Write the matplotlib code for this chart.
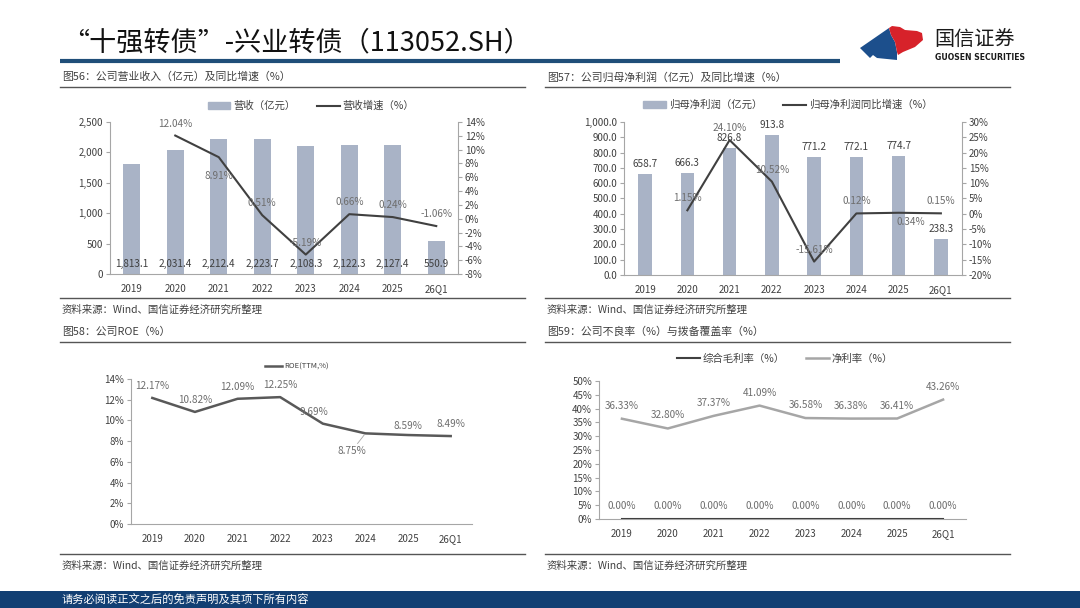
import numpy as np
import matplotlib
matplotlib.use("Agg")
import matplotlib.pyplot as plt
from matplotlib.patches import Polygon, Rectangle, Patch
from matplotlib.lines import Line2D
from matplotlib.ticker import FuncFormatter, MultipleLocator

plt.rcParams['font.family'] = ['Noto Sans CJK SC', 'DejaVu Sans']
plt.rcParams['axes.unicode_minus'] = False

W, H = 1080, 608

# --- data ---
years = ["2019", "2020", "2021", "2022", "2023", "2024", "2025", "26Q1"]
revenue = [1813.1, 2031.4, 2212.4, 2223.7, 2108.3, 2122.3, 2127.4, 550.9]
revenue_yoy = [np.nan, 12.04, 8.91, 0.51, -5.19, 0.66, 0.24, -1.06]
profit = [658.7, 666.3, 826.8, 913.8, 771.2, 772.1, 774.7, 238.3]
profit_yoy = [np.nan, 1.15, 24.10, 10.52, -15.61, 0.12, 0.34, 0.15]
roe = [12.17, 10.82, 12.09, 12.25, 9.69, 8.75, 8.59, 8.49]
gross_margin = [0.00, 0.00, 0.00, 0.00, 0.00, 0.00, 0.00, 0.00]
net_margin = [36.33, 32.80, 37.37, 41.09, 36.58, 36.38, 36.41, 43.26]

BAR = '#A9B3C6'
DARK = '#404040'
TXT = '#404040'
LBL = '#6E6E6E'
AXC = '#A6A6A6'
NAVY = '#123F73'

fig = plt.figure(figsize=(W / 100, H / 100), dpi=100)


def px_axes(x0, y0, x1, y1):
    return fig.add_axes([x0 / W, 1 - y1 / H, (x1 - x0) / W, (y1 - y0) / H])


def style(ax, right=False):
    for s in ['top', 'right', 'left', 'bottom']:
        ax.spines[s].set_visible(False)
    ax.spines['bottom'].set_visible(True)
    ax.spines['bottom'].set_color(AXC)
    side = 'right' if right else 'left'
    ax.spines[side].set_visible(True)
    ax.spines[side].set_color(AXC)
    ax.tick_params(axis='y', length=3, color=AXC, labelsize=7, labelcolor=TXT, pad=2)
    ax.tick_params(axis='x', length=0, labelsize=7, labelcolor=TXT, pad=7)


def pct(v, _):
    return f"{v:.0f}%"


# background layer (pixel coords)
bg = fig.add_axes([0, 0, 1, 1])
bg.set_xlim(0, W)
bg.set_ylim(H, 0)
bg.axis('off')

bg.text(62, 43, "“十强转债”-兴业转债（113052.SH）", fontsize=19.5, color='#111111',
        va='center', ha='left')
bg.plot([60, 840], [61, 61], color='#1F4E79', lw=3, solid_capstyle='butt')

# logo
bg.add_patch(Polygon([(860, 48), (889, 28), (891, 35), (895, 42), (897, 52), (897, 60),
                      (877, 58), (873, 55), (870, 58)], closed=True, color='#1C4F8C', lw=0))
bg.add_patch(Polygon([(889, 28), (892, 26), (900, 27), (905, 30), (917, 31), (922, 33),
                      (923, 40), (915, 47), (903, 52), (898, 55), (897, 52), (895, 42),
                      (891, 35)], closed=True, color='#D7222A', lw=0))
bg.text(934, 40, "国信证券", fontsize=14.5, color='#1a1a1a', va='center', ha='left')
bg.text(935, 58, "GUOSEN SECURITIES", fontsize=5.6, color='#1a1a1a', va='center',
        ha='left', fontweight='bold', family=['DejaVu Sans'])

# section headers and source lines
for x0, x1, ty, ly, sy, title in [
        (60, 525, 77, 87, 298, "图56：公司营业收入（亿元）及同比增速（%）"),
        (545, 1010, 77, 87, 298, "图57：公司归母净利润（亿元）及同比增速（%）"),
        (60, 525, 332, 342, 554, "图58：公司ROE（%）"),
        (545, 1010, 332, 342, 554, "图59：公司不良率（%）与拨备覆盖率（%）")]:
    bg.text(x0 + 2, ty, title, fontsize=7.8, color=TXT, va='center', ha='left')
    bg.plot([x0, x1], [ly, ly], color='#555555', lw=1)
    bg.plot([x0, x1], [sy, sy], color='#555555', lw=1)
    bg.text(x0 + 2, sy + 12, "资料来源：Wind、国信证券经济研究所整理", fontsize=7.5,
            color=TXT, va='center', ha='left')

bg.add_patch(Rectangle((0, 591), W, 17, color=NAVY, lw=0))
bg.text(62, 600, "请务必阅读正文之后的免责声明及其项下所有内容", fontsize=8.1,
        color='white', va='center', ha='left')

x = np.arange(len(years))


def add_legend(ax, handles, labels, cx, cy, fs=7.5):
    ax.legend(handles, labels, loc='center', bbox_to_anchor=(cx / W, 1 - cy / H),
              bbox_transform=fig.transFigure, ncol=len(handles), frameon=False,
              fontsize=fs, handlelength=2.2, handletextpad=0.3, columnspacing=2.0,
              labelcolor=TXT)


# ---- chart 56 ----
ax = px_axes(110, 122, 458, 274)
ax.bar(x, revenue, width=0.38, color=BAR, zorder=1)
ax.set_ylim(0, 2500)
ax.set_xlim(-0.5, len(years) - 0.5)
ax.yaxis.set_major_locator(MultipleLocator(500))
ax.yaxis.set_major_formatter(FuncFormatter(lambda v, _: f"{v:,.0f}"))
ax.set_xticks(x, years)
style(ax)
for i, v in enumerate(revenue):
    ax.annotate(f"{v:,.1f}", (i, 0), xytext=(0, 10), textcoords='offset pixels',
                ha='center', va='center', fontsize=7.2, color=DARK, zorder=5)
ax2 = ax.twinx()
ax2.plot(x, revenue_yoy, color=DARK, lw=1.5)
ax2.set_ylim(-8, 14)
ax2.yaxis.set_major_locator(MultipleLocator(2))
ax2.yaxis.set_major_formatter(FuncFormatter(pct))
style(ax2, right=True)
ax2.spines['bottom'].set_visible(False)
offs = {2: (0, -19)}
for i, v in enumerate(revenue_yoy):
    if np.isnan(v):
        continue
    dx, dy = offs.get(i, (0, 12))
    ax2.annotate(f"{v:.2f}%", (i, v), xytext=(dx, dy), textcoords='offset pixels',
                 ha='center', va='center', fontsize=7.2, color=LBL)
add_legend(ax, [Patch(color=BAR), Line2D([], [], color=DARK, lw=1.5)],
           ["营收（亿元）", "营收增速（%）"], 311, 106)

# ---- chart 57 ----
ax = px_axes(624, 122, 962, 275)
ax.bar(x, profit, width=0.32, color=BAR, zorder=1)
ax.set_ylim(0, 1000)
ax.set_xlim(-0.5, len(years) - 0.5)
ax.yaxis.set_major_locator(MultipleLocator(100))
ax.yaxis.set_major_formatter(FuncFormatter(lambda v, _: f"{v:,.1f}"))
ax.set_xticks(x, years)
style(ax)
for i, v in enumerate(profit):
    ax.annotate(f"{v:.1f}", (i, v), xytext=(0, 10), textcoords='offset pixels',
                ha='center', va='center', fontsize=7.2, color=DARK, zorder=5)
ax2 = ax.twinx()
ax2.plot(x, profit_yoy, color=DARK, lw=1.5)
ax2.set_ylim(-20, 30)
ax2.yaxis.set_major_locator(MultipleLocator(5))
ax2.yaxis.set_major_formatter(FuncFormatter(pct))
style(ax2, right=True)
ax2.spines['bottom'].set_visible(False)
offs = {6: (12, -9)}
for i, v in enumerate(profit_yoy):
    if np.isnan(v):
        continue
    dx, dy = offs.get(i, (0, 12))
    ax2.annotate(f"{v:.2f}%", (i, v), xytext=(dx, dy), textcoords='offset pixels',
                 ha='center', va='center', fontsize=7.2, color=LBL)
add_legend(ax, [Patch(color=BAR), Line2D([], [], color=DARK, lw=1.5)],
           ["归母净利润（亿元）", "归母净利润同比增速（%）"], 788, 105)

# ---- chart 58 ----
ax = px_axes(131, 379, 472, 524)
ax.plot(x, roe, color='#595959', lw=1.8)
ax.set_ylim(0, 14)
ax.set_xlim(-0.5, len(years) - 0.5)
ax.yaxis.set_major_locator(MultipleLocator(2))
ax.yaxis.set_major_formatter(FuncFormatter(pct))
ax.set_xticks(x, years)
style(ax)
offs = {4: (-9, 12), 5: (-14, -18), 6: (0, 9)}
for i, v in enumerate(roe):
    dx, dy = offs.get(i, (0, 12))
    if i == 5:
        ax.annotate(f"{v:.2f}%", (i, v), xytext=(dx, dy), textcoords='offset pixels',
                    ha='center', va='center', fontsize=7.2, color=LBL,
                    arrowprops=dict(arrowstyle='-', color='#A6A6A6', lw=0.6,
                                    shrinkA=0, shrinkB=1))
    else:
        ax.annotate(f"{v:.2f}%", (i, v), xytext=(dx, dy), textcoords='offset pixels',
                    ha='center', va='center', fontsize=7.2, color=LBL)
add_legend(ax, [Line2D([], [], color='#595959', lw=1.8)], ["ROE(TTM,%)"], 297, 367, fs=5.5)

# ---- chart 59 ----
ax = px_axes(599, 381, 966, 519)
ax.plot(x, gross_margin, color=DARK, lw=1.5, zorder=3)
ax.plot(x, net_margin, color='#A6A6A6', lw=1.8)
ax.set_ylim(0, 50)
ax.set_xlim(-0.5, len(years) - 0.5)
ax.yaxis.set_major_locator(MultipleLocator(5))
ax.yaxis.set_major_formatter(FuncFormatter(pct))
ax.set_xticks(x, years)
style(ax)
for series in (gross_margin, net_margin):
    for i, v in enumerate(series):
        ax.annotate(f"{v:.2f}%", (i, v), xytext=(0, 13), textcoords='offset pixels',
                    ha='center', va='center', fontsize=7.2, color=LBL)
add_legend(ax, [Line2D([], [], color=DARK, lw=1.5), Line2D([], [], color='#A6A6A6', lw=1.8)],
           ["综合毛利率（%）", "净利率（%）"], 785, 359)

fig.savefig("out.png", dpi=100)
